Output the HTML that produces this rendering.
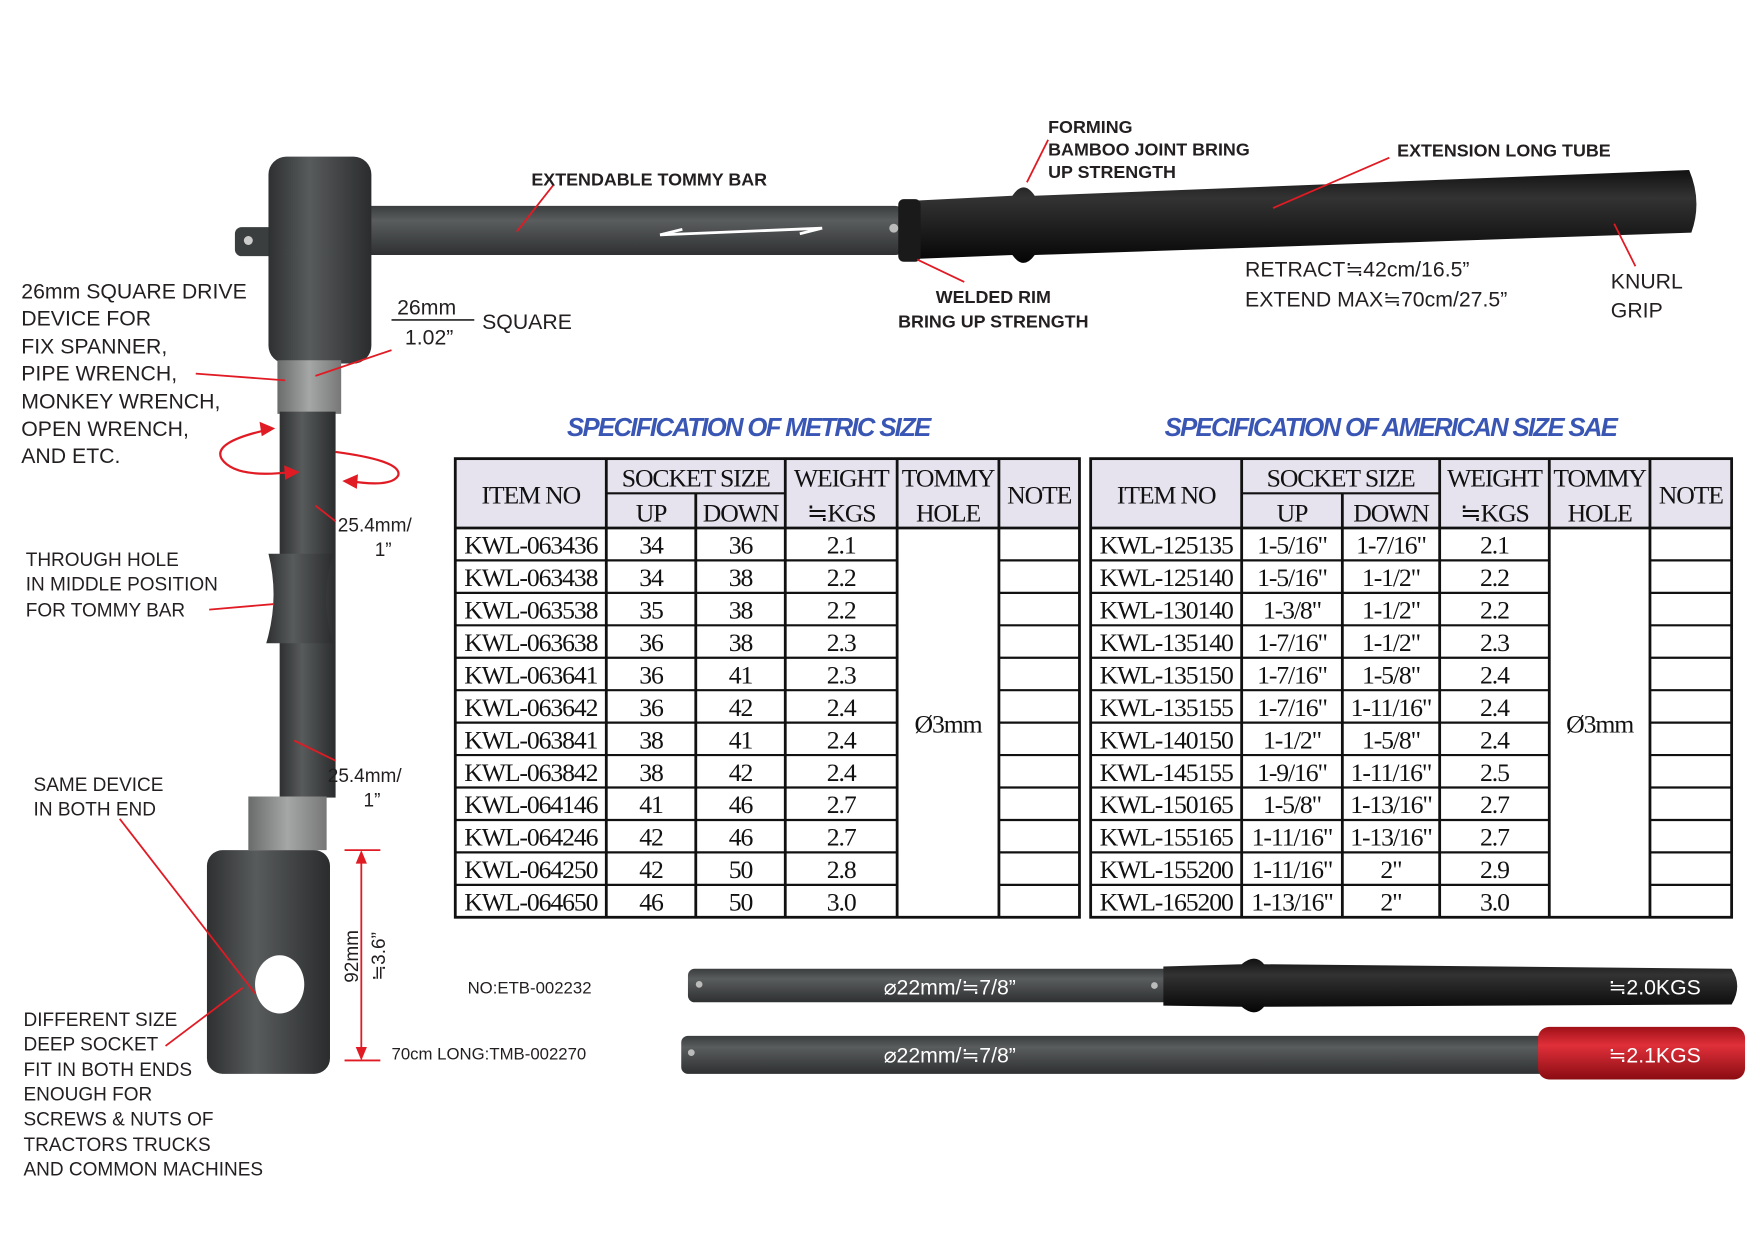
<!DOCTYPE html>
<html><head><meta charset="utf-8"><style>
html,body{margin:0;padding:0;background:#fff;width:1754px;height:1241px;overflow:hidden}
#w{position:absolute;left:0;top:0;width:1568px;height:1109px;transform:scale(1.11862);transform-origin:0 0}
svg{position:absolute;left:0;top:0}
.t{font-family:"Liberation Sans",sans-serif}
.s{font-family:"Liberation Serif",serif}
</style></head><body><div id="w">
<svg width="1568" height="1109" viewBox="0 0 1568 1109">
<defs>
<linearGradient id="gv" x1="0" y1="0" x2="0" y2="1"><stop offset="0" stop-color="#3a3d3e"/><stop offset=".3" stop-color="#5a5d5e"/><stop offset="1" stop-color="#2e3031"/></linearGradient>
<linearGradient id="gh" x1="0" y1="0" x2="1" y2="0"><stop offset="0" stop-color="#2e3031"/><stop offset=".4" stop-color="#585b5c"/><stop offset="1" stop-color="#2a2c2d"/></linearGradient>
<linearGradient id="bk" x1="0" y1="0" x2="0" y2="1"><stop offset="0" stop-color="#111"/><stop offset=".3" stop-color="#333"/><stop offset="1" stop-color="#050505"/></linearGradient>
<linearGradient id="rd" x1="0" y1="0" x2="0" y2="1"><stop offset="0" stop-color="#a01018"/><stop offset=".35" stop-color="#e0303a"/><stop offset="1" stop-color="#8a0c12"/></linearGradient>
<linearGradient id="hx" x1="0" y1="0" x2="1" y2="0"><stop offset="0" stop-color="#6a6c6c"/><stop offset=".5" stop-color="#a5a7a7"/><stop offset="1" stop-color="#777"/></linearGradient>
</defs>
<rect x="210" y="203" width="40" height="26" rx="6" fill="#3b3e3f"/>
<circle cx="222" cy="215" r="4" fill="#ccc"/>
<rect x="315" y="184" width="495" height="44" rx="10" fill="url(#gv)"/>
<path d="M805 180 L905 175 Q915 160 925 175 L1510 152 Q1522 180 1512 208 L925 228 Q915 242 905 228 L805 232 Z" fill="url(#bk)"/>
<rect x="803" y="178" width="20" height="56" rx="5" fill="#1a1a1a"/>
<circle cx="799" cy="204" r="4" fill="#bbb"/>
<path d="M590 210 L735 204 M590 210 L610 205 M735 204 L715 209" stroke="#fff" stroke-width="2.5" fill="none"/>
<rect x="240" y="140" width="92" height="185" rx="16" fill="url(#gh)"/>
<path d="M248 322 L305 322 L305 370 L248 370 Z" fill="url(#hx)"/>
<rect x="250" y="368" width="50" height="345" fill="url(#gh)"/>
<path d="M240 495 Q250 535 238 575 L298 575 Q285 535 298 495 Z" fill="url(#gh)"/>
<path d="M222 712 L292 712 L292 760 L222 760 Z" fill="url(#hx)"/>
<rect x="185" y="760" width="110" height="200" rx="14" fill="url(#gh)"/>
<ellipse cx="250" cy="880" rx="22" ry="26" fill="#fff"/>
<rect x="615" y="866" width="440" height="30" rx="6" fill="url(#gv)"/>
<path d="M1040 864 L1110 862 Q1122 852 1130 862 L1548 866 Q1558 881 1548 898 L1130 900 Q1122 910 1110 900 L1040 899 Z" fill="url(#bk)"/>
<circle cx="625" cy="880" r="3" fill="#bbb"/><circle cx="1032" cy="881" r="3" fill="#bbb"/>
<rect x="609" y="926" width="790" height="34" rx="6" fill="url(#gv)"/>
<rect x="1375" y="918" width="185" height="47" rx="10" fill="url(#rd)"/>
<circle cx="618" cy="941" r="3" fill="#bbb"/>
<g stroke="#e01b24" stroke-width="1.6" fill="none">
<path d="M495 165 L462 207"/><path d="M937 125 L918 163"/><path d="M1242 141 L1138 186"/>
<path d="M820 232 L862 252"/><path d="M1443 200 L1462 238"/>
<path d="M175 334 L255 340"/><path d="M350 313 L282 336"/>
<path d="M300 466 L282 452"/><path d="M300 680 L263 662"/>
<path d="M187 545 L245 540"/><path d="M107 732 L228 888"/><path d="M148 935 L217 883"/>
<path d="M240 384 Q190 395 198 410 Q210 428 260 422" stroke-width="2"/>
<path d="M300 404 Q360 412 356 425 Q350 436 312 430" stroke-width="2"/>
<path d="M323 762 L323 946"/><path d="M308 760 L340 760 M308 948 L340 948"/>
</g>
<g fill="#e01b24">
<path d="M246 383 L232 377 L234 390 Z"/><path d="M268 422 L254 416 L255 429 Z"/><path d="M306 430 L320 424 L319 437 Z"/>
<path d="M323 760 L318 772 L328 772 Z"/><path d="M323 948 L318 936 L328 936 Z"/>
</g>
<line x1="350" y1="286" x2="424" y2="286" stroke="#222" stroke-width="1.5"/>
<g class="t" fill="#231f20" font-weight="bold" font-size="16">
<text x="475" y="166">EXTENDABLE TOMMY BAR</text>
<text x="937" y="119">FORMING</text><text x="937" y="139">BAMBOO JOINT BRING</text><text x="937" y="159">UP STRENGTH</text>
<text x="1249" y="140">EXTENSION LONG TUBE</text>
<text x="888" y="271" text-anchor="middle">WELDED RIM</text><text x="888" y="293" text-anchor="middle">BRING UP STRENGTH</text>
</g>
<g class="t" fill="#231f20" font-size="19">
<text x="1113" y="247">RETRACT≒42cm/16.5”</text><text x="1113" y="274">EXTEND  MAX≒70cm/27.5”</text>
<text x="1440" y="258">KNURL</text><text x="1440" y="284">GRIP</text>
<text x="19" y="267">26mm SQUARE DRIVE</text><text x="19" y="291">DEVICE FOR</text><text x="19" y="316">FIX SPANNER,</text><text x="19" y="340">PIPE WRENCH,</text><text x="19" y="365">MONKEY WRENCH,</text><text x="19" y="390">OPEN WRENCH,</text><text x="19" y="414">AND ETC.</text>
<text x="355" y="281">26mm</text><text x="362" y="308">1.02”</text><text x="431" y="294">SQUARE</text>
</g>
<g class="t" fill="#231f20" font-size="17">
<text x="302" y="475">25.4mm/</text><text x="335" y="497">1”</text>
<text x="293" y="699">25.4mm/</text><text x="325" y="721">1”</text>
<text x="23" y="506">THROUGH HOLE</text><text x="23" y="528">IN MIDDLE POSITION</text><text x="23" y="551">FOR TOMMY BAR</text>
<text x="30" y="707">SAME DEVICE</text><text x="30" y="729">IN BOTH END</text>
<text x="21" y="917">DIFFERENT SIZE</text><text x="21" y="939">DEEP SOCKET</text><text x="21" y="962">FIT IN BOTH ENDS</text><text x="21" y="984">ENOUGH FOR</text><text x="21" y="1006">SCREWS &amp; NUTS OF</text><text x="21" y="1029">TRACTORS TRUCKS</text><text x="21" y="1051">AND COMMON MACHINES</text>
<text x="418" y="888" font-size="15">NO:ETB-002232</text><text x="350" y="947" font-size="15">70cm LONG:TMB-002270</text>
<text transform="translate(320,855) rotate(-90)" text-anchor="middle">92mm</text>
<text transform="translate(344,855) rotate(-90)" text-anchor="middle">≒3.6”</text>
</g>
<g class="t" fill="#fff" font-size="19">
<text x="790" y="889">⌀22mm/≒7/8”</text><text x="1438" y="889">≒2.0KGS</text>
<text x="790" y="950">⌀22mm/≒7/8”</text><text x="1438" y="950">≒2.1KGS</text>
</g>
<g class="t" fill="#3a56b4" font-weight="bold" font-size="23" font-style="italic" letter-spacing="-1.5">
<text x="669" y="390" text-anchor="middle">SPECIFICATION OF METRIC SIZE</text>
<text x="1243" y="390" text-anchor="middle">SPECIFICATION OF AMERICAN SIZE SAE</text>
</g>
<g id="tb"></g>
</svg>
</div>
<script>
(function(){
var ns="http://www.w3.org/2000/svg",g=document.getElementById('tb');
function el(t,a,txt){var e=document.createElementNS(ns,t);for(var k in a)e.setAttribute(k,a[k]);if(txt!=null)e.textContent=txt;g.appendChild(e);return e;}
function table(cols,rows){
 var L=cols[0],R=cols[cols.length-1],T=410,H1=441,H2=472,B=820,rh=29;
 el('rect',{x:L,y:T,width:R-L,height:H2-T,fill:'#e6e3ef'});
 el('rect',{x:L,y:T,width:R-L,height:B-T,fill:'none',stroke:'#111','stroke-width':2.5});
 for(var i=1;i<cols.length-1;i++)el('line',{x1:cols[i],y1:(i==2?H1:T),x2:cols[i],y2:B,stroke:'#111','stroke-width':2.5});
 el('line',{x1:cols[1],y1:H1,x2:cols[3],y2:H1,stroke:'#111','stroke-width':2});
 el('line',{x1:L,y1:H2,x2:R,y2:H2,stroke:'#111','stroke-width':2.5});
 for(var r=1;r<12;r++){var y=H2+r*rh;
  el('line',{x1:L,y1:y,x2:cols[4],y2:y,stroke:'#111','stroke-width':2});
  el('line',{x1:cols[5],y1:y,x2:R,y2:y,stroke:'#111','stroke-width':2});}
 var st={'class':'s','font-size':23,fill:'#111','text-anchor':'middle','letter-spacing':'-1'};
 function tx(x,y,s){var a=Object.assign({x:x,y:y},st);el('text',a,s);}
 function mid(i){return (cols[i]+cols[i+1])/2;}
 tx(mid(0),450,'ITEM NO');tx((cols[1]+cols[3])/2,435,'SOCKET SIZE');
 tx(mid(1),466,'UP');tx(mid(2),466,'DOWN');tx(mid(3),435,'WEIGHT');tx(mid(3),466,'≒KGS');
 tx(mid(4),435,'TOMMY');tx(mid(4),466,'HOLE');tx(mid(5),450,'NOTE');
 rows.forEach(function(r,i){var y=H2+i*rh+23;for(var c=0;c<4;c++)tx(mid(c),y,r[c]);});
 tx(mid(4),655,'Ø3mm');
}
table([407,542,622,702,802,893,965],[
['KWL-063436','34','36','2.1'],['KWL-063438','34','38','2.2'],['KWL-063538','35','38','2.2'],['KWL-063638','36','38','2.3'],
['KWL-063641','36','41','2.3'],['KWL-063642','36','42','2.4'],['KWL-063841','38','41','2.4'],['KWL-063842','38','42','2.4'],
['KWL-064146','41','46','2.7'],['KWL-064246','42','46','2.7'],['KWL-064250','42','50','2.8'],['KWL-064650','46','50','3.0']]);
table([975,1110,1200,1287,1385,1475,1548],[
['KWL-125135','1-5/16"','1-7/16"','2.1'],['KWL-125140','1-5/16"','1-1/2"','2.2'],['KWL-130140','1-3/8"','1-1/2"','2.2'],['KWL-135140','1-7/16"','1-1/2"','2.3'],
['KWL-135150','1-7/16"','1-5/8"','2.4'],['KWL-135155','1-7/16"','1-11/16"','2.4'],['KWL-140150','1-1/2"','1-5/8"','2.4'],['KWL-145155','1-9/16"','1-11/16"','2.5'],
['KWL-150165','1-5/8"','1-13/16"','2.7'],['KWL-155165','1-11/16"','1-13/16"','2.7'],['KWL-155200','1-11/16"','2"','2.9'],['KWL-165200','1-13/16"','2"','3.0']]);
})();
</script>
</body></html>
